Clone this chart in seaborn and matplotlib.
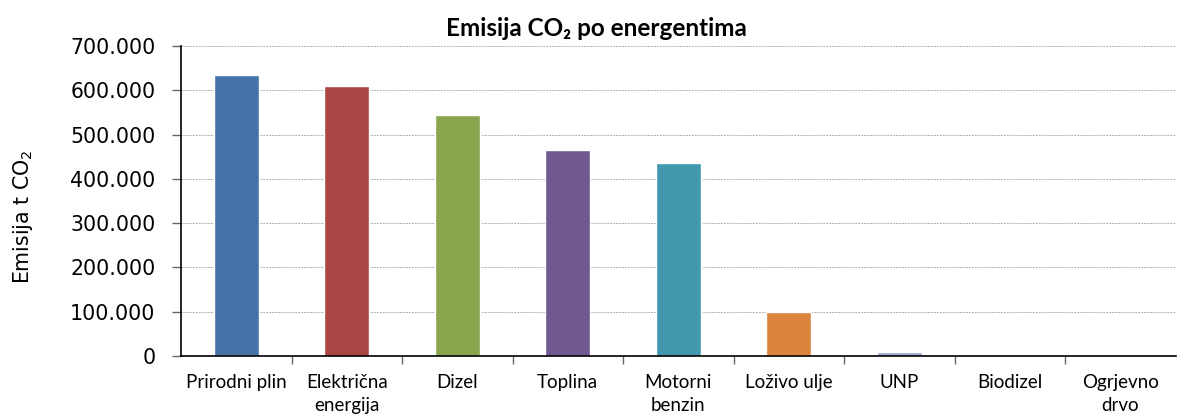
import numpy as np
import pandas as pd
import seaborn as sns
import matplotlib.pyplot as plt
from matplotlib.ticker import FuncFormatter, FixedLocator

categories = ['Prirodni plin', 'Električna\nenergija', 'Dizel', 'Toplina', 'Motorni\nbenzin',
              'Loživo ulje', 'UNP', 'Biodizel', 'Ogrjevno\ndrvo']
emissions = [634500, 609500, 544000, 465000, 435000, 99500, 8500, 300, 200]
colors = ['#4572A7', '#AA4643', '#89A54E', '#71588F', '#4198AF',
          '#DB843D', '#93A9CF', '#D19392', '#B9CD96']

df = pd.DataFrame({'energent': categories, 'emisija': emissions})

sns.set_style('white')
plt.rcParams['font.family'] = ['Lato', 'DejaVu Sans']
plt.rcParams['text.color'] = 'black'
plt.rcParams['xtick.color'] = 'black'
plt.rcParams['ytick.color'] = 'black'
plt.rcParams['axes.labelcolor'] = 'black'

fig = plt.figure(figsize=(11.77, 4.18), dpi=100)
ax = fig.add_axes([0.1538, 0.1483, 0.845, 0.7417])

sns.barplot(data=df, x='energent', y='emisija', hue='energent', palette=colors,
            width=0.41, legend=False, ax=ax, saturation=1)

ax.set_ylim(0, 700000)
ax.set_xlim(-0.5, len(categories) - 0.5)
ax.yaxis.set_major_locator(FixedLocator(np.arange(0, 700001, 100000)))
ax.yaxis.set_major_formatter(FuncFormatter(lambda v, p: f'{int(v):,}'.replace(',', '.')))
ax.yaxis.grid(True, color='#b0b0b0', linestyle=(0, (2, 1)), linewidth=0.7)
ax.set_axisbelow(True)
for lbl in ax.get_yticklabels():
    lbl.set_family('DejaVu Sans')
ax.tick_params(axis='y', labelsize=14.8, length=6.5, width=1, color='#666666', direction='out', left=True, pad=12)

ax.set_xticks(range(len(categories)))
ax.set_xticklabels(categories, fontsize=13.5, linespacing=1.4)
ax.set_xticks(np.arange(0.5, len(categories) - 0.5, 1), minor=True)
ax.tick_params(axis='x', which='major', length=0, pad=13)
ax.tick_params(axis='x', which='minor', length=6, width=1, color='#666666', bottom=True)

for s in ['top', 'right']:
    ax.spines[s].set_visible(False)
for s in ['left', 'bottom']:
    ax.spines[s].set_color('black')
    ax.spines[s].set_linewidth(1.2)

ax.set_xlabel('')
ax.set_ylabel('Emisija t CO$_2$', fontsize=14.8, family='DejaVu Sans')
ax.yaxis.set_label_coords(-0.1466, 0.45)
fig.text(0.507, 0.933, 'Emisija CO₂ po energentima', ha='center', va='center',
         fontsize=17.5, fontweight='bold', family=['Lato', 'DejaVu Sans'])

fig.savefig('out.png', dpi=100)
